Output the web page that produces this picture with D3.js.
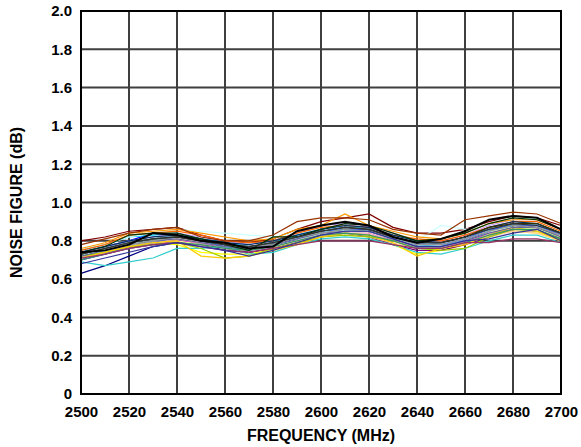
<!DOCTYPE html>
<html><head><meta charset="utf-8">
<script src="https://cdn.jsdelivr.net/npm/d3@7"></script>
<style>body{margin:0;background:#fff}text{font-family:Arial,"Liberation Sans",sans-serif;font-weight:bold}</style>
</head><body><svg id="c" width="581" height="447"></svg>
<script>
const frequencies = [2500,2510,2520,2530,2540,2550,2560,2570,2580,2590,2600,2610,2620,2630,2640,2650,2660,2670,2680,2690,2700];
const xTicks = [2500,2520,2540,2560,2580,2600,2620,2640,2660,2680,2700];
const yTicks = [0,0.2,0.4,0.6,0.8,1.0,1.2,1.4,1.6,1.8,2.0];
const yTickLabels = ["0","0.2","0.4","0.6","0.8","1.0","1.2","1.4","1.6","1.8","2.0"];

const nfNavy      = [0.63,0.67,0.72,0.77,0.79,0.78,0.75,0.74,0.76,0.79,0.83,0.85,0.85,0.80,0.76,0.77,0.80,0.85,0.88,0.87,0.82];
const nfMagenta   = [0.70,0.73,0.76,0.78,0.80,0.79,0.76,0.75,0.77,0.80,0.83,0.84,0.83,0.80,0.76,0.76,0.79,0.84,0.86,0.86,0.81];
const nfYellow    = [0.71,0.74,0.77,0.79,0.78,0.74,0.73,0.73,0.76,0.79,0.82,0.84,0.82,0.78,0.73,0.75,0.78,0.83,0.85,0.84,0.80];
const nfCyan      = [0.72,0.75,0.78,0.80,0.82,0.80,0.77,0.76,0.78,0.81,0.84,0.86,0.85,0.81,0.77,0.77,0.80,0.85,0.88,0.88,0.83];
const nfPurple    = [0.71,0.74,0.77,0.79,0.80,0.78,0.76,0.74,0.76,0.79,0.82,0.84,0.82,0.78,0.75,0.75,0.78,0.82,0.86,0.86,0.81];
const nfMaroon    = [0.80,0.82,0.85,0.86,0.87,0.83,0.80,0.79,0.81,0.86,0.90,0.92,0.94,0.87,0.84,0.84,0.86,0.90,0.93,0.92,0.88];
const nfTeal      = [0.73,0.76,0.79,0.81,0.82,0.80,0.78,0.77,0.78,0.82,0.85,0.87,0.86,0.82,0.78,0.79,0.82,0.86,0.89,0.88,0.84];
const nfBlue      = [0.74,0.77,0.80,0.84,0.83,0.79,0.77,0.75,0.77,0.81,0.86,0.88,0.87,0.82,0.79,0.78,0.80,0.85,0.89,0.89,0.83];
const nfSky       = [0.75,0.78,0.82,0.83,0.84,0.81,0.79,0.77,0.79,0.83,0.86,0.88,0.86,0.82,0.78,0.77,0.81,0.86,0.89,0.89,0.84];
const nfTurquoise = [0.76,0.78,0.82,0.84,0.86,0.85,0.84,0.83,0.82,0.84,0.86,0.87,0.86,0.83,0.80,0.88,0.86,0.88,0.91,0.92,0.86];
const nfLtGreen   = [0.72,0.75,0.78,0.80,0.81,0.80,0.78,0.76,0.78,0.81,0.84,0.85,0.84,0.81,0.78,0.78,0.81,0.85,0.87,0.86,0.82];
const nfLtYellow  = [0.71,0.74,0.77,0.79,0.80,0.78,0.76,0.75,0.77,0.80,0.83,0.84,0.83,0.80,0.76,0.77,0.80,0.84,0.87,0.86,0.82];
const nfPaleBlue  = [0.73,0.76,0.79,0.81,0.83,0.80,0.78,0.77,0.79,0.82,0.86,0.87,0.86,0.82,0.79,0.78,0.81,0.86,0.89,0.88,0.84];
const nfRose      = [0.71,0.74,0.77,0.79,0.81,0.79,0.77,0.76,0.77,0.80,0.83,0.84,0.84,0.80,0.77,0.77,0.79,0.83,0.85,0.85,0.81];
const nfLavender  = [0.74,0.77,0.80,0.82,0.84,0.82,0.80,0.78,0.80,0.84,0.88,0.89,0.88,0.84,0.80,0.80,0.83,0.88,0.91,0.91,0.86];
const nfTan       = [0.72,0.74,0.77,0.79,0.81,0.79,0.77,0.76,0.77,0.80,0.82,0.83,0.82,0.79,0.76,0.76,0.79,0.82,0.85,0.84,0.80];
const nfLtBlue    = [0.70,0.73,0.77,0.79,0.82,0.80,0.77,0.76,0.78,0.82,0.85,0.86,0.86,0.82,0.78,0.78,0.81,0.86,0.88,0.88,0.83];
const nfAqua      = [0.69,0.67,0.69,0.71,0.76,0.76,0.77,0.73,0.74,0.78,0.81,0.82,0.81,0.78,0.74,0.73,0.76,0.80,0.83,0.83,0.79];
const nfLime      = [0.72,0.74,0.77,0.78,0.79,0.76,0.71,0.72,0.76,0.79,0.82,0.83,0.82,0.80,0.76,0.75,0.76,0.82,0.86,0.85,0.81];
const nfGold      = [0.71,0.74,0.77,0.79,0.80,0.72,0.71,0.72,0.75,0.78,0.82,0.84,0.83,0.79,0.72,0.76,0.78,0.83,0.87,0.85,0.80];
const nfLtOrange  = [0.76,0.79,0.84,0.85,0.86,0.84,0.82,0.80,0.81,0.86,0.88,0.94,0.88,0.85,0.82,0.81,0.84,0.89,0.91,0.91,0.86];
const nfOrange    = [0.75,0.78,0.83,0.84,0.85,0.83,0.80,0.79,0.80,0.84,0.87,0.88,0.87,0.83,0.81,0.80,0.83,0.87,0.90,0.90,0.85];
const nfBlueGray  = [0.72,0.75,0.78,0.80,0.81,0.79,0.77,0.76,0.78,0.81,0.84,0.85,0.85,0.81,0.77,0.77,0.80,0.84,0.87,0.87,0.82];
const nfGray      = [0.73,0.76,0.78,0.80,0.82,0.80,0.78,0.77,0.78,0.82,0.84,0.86,0.85,0.82,0.78,0.78,0.81,0.85,0.88,0.87,0.83];
const nfDarkTeal  = [0.74,0.77,0.80,0.82,0.83,0.81,0.79,0.78,0.80,0.83,0.86,0.88,0.87,0.83,0.80,0.79,0.82,0.87,0.90,0.89,0.84];
const nfSeaGreen  = [0.70,0.73,0.76,0.78,0.79,0.78,0.76,0.75,0.77,0.80,0.83,0.84,0.83,0.80,0.76,0.76,0.79,0.83,0.86,0.86,0.81];
const nfDarkGreen = [0.74,0.77,0.83,0.84,0.84,0.81,0.78,0.75,0.82,0.82,0.86,0.89,0.88,0.84,0.80,0.81,0.84,0.89,0.92,0.91,0.86];
const nfOlive     = [0.73,0.76,0.79,0.81,0.82,0.80,0.78,0.77,0.79,0.82,0.85,0.87,0.86,0.82,0.79,0.79,0.82,0.87,0.89,0.89,0.84];
const nfBrown     = [0.78,0.81,0.84,0.86,0.87,0.82,0.80,0.80,0.83,0.90,0.92,0.92,0.91,0.86,0.84,0.83,0.91,0.93,0.95,0.94,0.89];
const nfPlum      = [0.71,0.73,0.76,0.78,0.79,0.77,0.75,0.74,0.76,0.78,0.80,0.80,0.80,0.78,0.76,0.76,0.79,0.79,0.81,0.81,0.79];
const nfIndigo    = [0.68,0.71,0.74,0.77,0.79,0.77,0.75,0.72,0.75,0.79,0.83,0.85,0.85,0.81,0.77,0.77,0.80,0.81,0.84,0.86,0.80];
const nfGray80    = [0.73,0.76,0.79,0.81,0.82,0.80,0.78,0.77,0.79,0.82,0.85,0.87,0.86,0.82,0.79,0.79,0.82,0.86,0.89,0.88,0.84];
const nfBlack     = [0.74,0.75,0.78,0.84,0.83,0.80,0.79,0.76,0.77,0.85,0.88,0.90,0.88,0.82,0.79,0.81,0.85,0.91,0.93,0.92,0.86];

const seriesList = [nfNavy,nfMagenta,nfYellow,nfCyan,nfPurple,nfMaroon,nfTeal,nfBlue,nfSky,nfTurquoise,nfLtGreen,nfLtYellow,nfPaleBlue,nfRose,nfLavender,nfTan,nfLtBlue,nfAqua,nfLime,nfGold,nfLtOrange,nfOrange,nfBlueGray,nfGray,nfDarkTeal,nfSeaGreen,nfDarkGreen,nfOlive,nfBrown,nfPlum,nfIndigo,nfGray80,nfBlack];
const seriesColors = ["#000080","#FF00FF","#FFFF00","#00FFFF","#800080","#800000","#008080","#0000FF","#00CCFF","#CCFFFF","#CCFFCC","#FFFF99","#99CCFF","#FF99CC","#CC99FF","#FFCC99","#3366FF","#33CCCC","#99CC00","#FFCC00","#FF9900","#FF6600","#666699","#969696","#003366","#339966","#003300","#333300","#993300","#993366","#333399","#333333","#000000"];

const svg = d3.select("#c");
const L = 81, R = 561, T = 11, B = 394;
const x = d3.scaleLinear().domain([2500,2700]).range([L,R]);
const y = d3.scaleLinear().domain([0,2]).range([B,T]);

svg.append("g").selectAll("line").data(xTicks).join("line")
  .attr("x1",d=>x(d)).attr("x2",d=>x(d)).attr("y1",T).attr("y2",B)
  .attr("stroke","#3f3f3f").attr("stroke-width",2);
svg.append("g").selectAll("line").data(yTicks).join("line")
  .attr("x1",L).attr("x2",R).attr("y1",d=>y(d)).attr("y2",d=>y(d))
  .attr("stroke","#3f3f3f").attr("stroke-width",2);

const line = d3.line().x((d,i)=>x(frequencies[i])).y(d=>y(d));
svg.append("g").selectAll("path").data(seriesList).join("path")
  .attr("d",line).attr("fill","none")
  .attr("stroke",(d,i)=>seriesColors[i])
  .attr("stroke-width",(d,i)=>i===seriesList.length-1?2:1.2);

svg.append("rect").attr("x",L).attr("y",T).attr("width",R-L).attr("height",B-T)
  .attr("fill","none").attr("stroke","#000").attr("stroke-width",2);

const xAxis = d3.axisBottom(x).tickValues(xTicks).tickSize(0).tickPadding(12).tickFormat(d3.format("d"));
const gx = svg.append("g").attr("transform",`translate(0,${B})`).call(xAxis);
gx.select(".domain").remove();
gx.selectAll("text").attr("font-size",15).attr("fill","#000").style("font-weight","bold").style("font-family","Arial, 'Liberation Sans', sans-serif");

const yAxis = d3.axisLeft(y).tickValues(yTicks).tickSize(0).tickPadding(9).tickFormat((d,i)=>yTickLabels[i]);
const gy = svg.append("g").attr("transform",`translate(${L},0)`).call(yAxis);
gy.select(".domain").remove();
gy.selectAll("text").attr("font-size",15).attr("fill","#000").style("font-weight","bold").style("font-family","Arial, 'Liberation Sans', sans-serif");

svg.append("text").attr("x",(L+R)/2).attr("y",441).attr("text-anchor","middle")
  .attr("font-size",16).text("FREQUENCY (MHz)");
svg.append("text").attr("transform",`translate(22,${(T+B)/2}) rotate(-90)`).attr("text-anchor","middle")
  .attr("font-size",16).text("NOISE FIGURE (dB)");
</script></body></html>
